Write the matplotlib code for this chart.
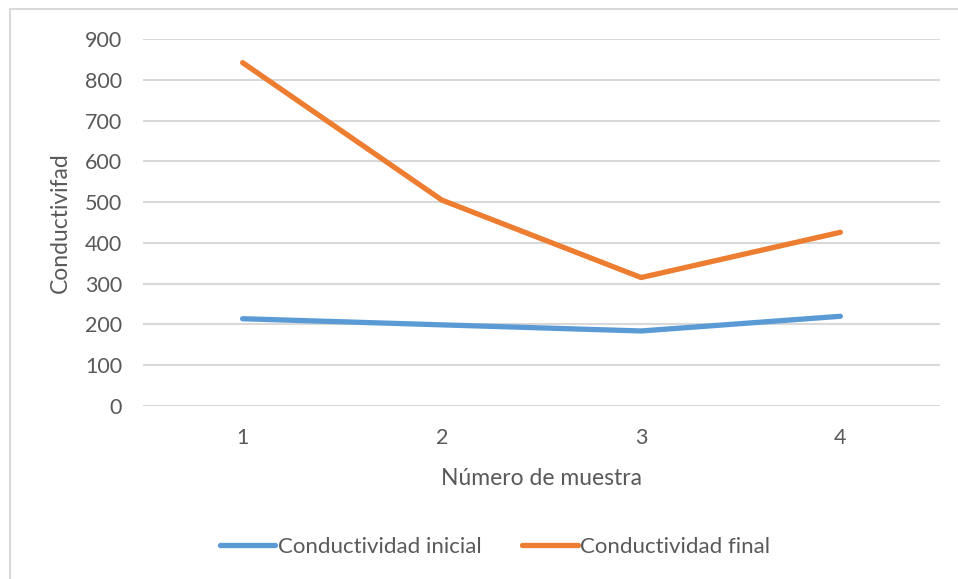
import matplotlib.pyplot as plt
from matplotlib.patches import Rectangle

muestras = [1, 2, 3, 4]
cond_inicial = [214, 199, 184, 220]
cond_final = [842, 505, 315, 426]
yticks = [0, 100, 200, 300, 400, 500, 600, 700, 800, 900]

plt.rcParams["font.family"] = ["Lato", "DejaVu Sans"]
gris = "#595959"

fig = plt.figure(figsize=(9.58, 5.79), dpi=100)
ax = fig.add_axes([143 / 958, 1 - 406 / 579, (940 - 143) / 958, (406 - 39) / 579])

ax.plot(muestras, cond_inicial, color="#5B9BD5", lw=3.8, solid_capstyle="round",
        label="Conductividad inicial")
ax.plot(muestras, cond_final, color="#ED7D31", lw=3.8, solid_capstyle="round",
        label="Conductividad final")

ax.set_xlim(0.5, 4.5)
ax.set_ylim(0, 900)
ax.set_xticks(muestras)
ax.set_yticks(yticks)
ax.grid(axis="y", color="#D9D9D9", lw=1.5)
ax.set_axisbelow(True)
for s in ax.spines.values():
    s.set_visible(False)
ax.tick_params(length=0, labelsize=15.5, colors=gris)
ax.tick_params(axis="x", pad=16)
ax.tick_params(axis="y", pad=15)

ax.set_xlabel("Número de muestra", fontsize=16.5, color=gris, labelpad=14)
ax.set_ylabel("Conductivifad", fontsize=16.5, color=gris, labelpad=10)

fig.legend(loc="center", bbox_to_anchor=(495 / 958, 1 - 547 / 579), ncol=2,
           frameon=False, fontsize=16, labelcolor=gris, handlelength=2.5,
           handletextpad=0.1, columnspacing=1.85)

fig.patches.append(Rectangle((10 / 958, -0.1), 1.2, 1.1 - 9 / 579,
                             transform=fig.transFigure, fill=False,
                             edgecolor="#D9D9D9", lw=1.5))

fig.savefig("out.png", dpi=100)
